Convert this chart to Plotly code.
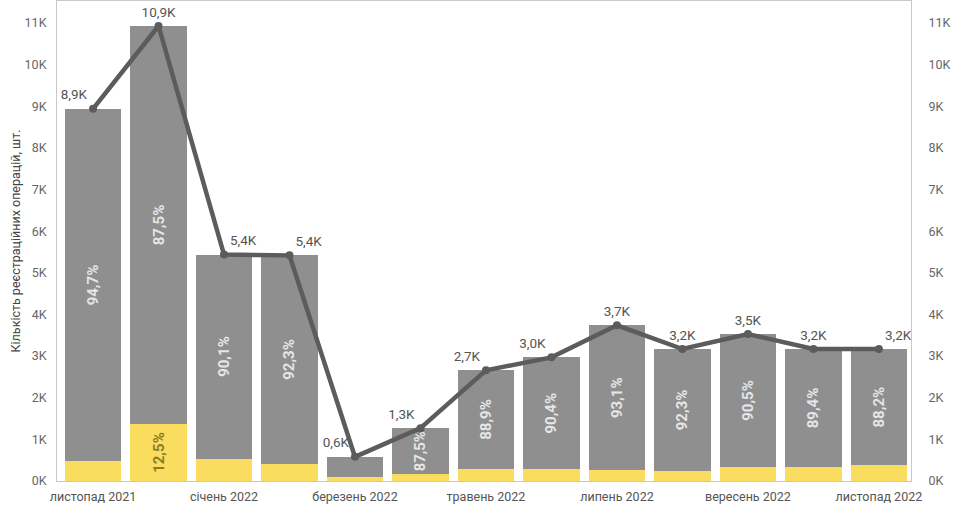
import plotly.graph_objects as go

months = ["листопад 2021", "грудень 2021", "січень 2022", "лютий 2022", "березень 2022",
          "квітень 2022", "травень 2022", "червень 2022", "липень 2022", "серпень 2022",
          "вересень 2022", "жовтень 2022", "листопад 2022"]
totals = [8.94, 10.93, 5.44, 5.42, 0.58, 1.27, 2.66, 2.97, 3.74, 3.17, 3.53, 3.17, 3.17]
total_labels = ["8,9K", "10,9K", "5,4K", "5,4K", "0,6K", "1,3K", "2,7K", "3,0K", "3,7K",
                "3,2K", "3,5K", "3,2K", "3,2K"]
gray_pct = [94.7, 87.5, 90.1, 92.3, 83.0, 87.5, 88.9, 90.4, 93.1, 92.3, 90.5, 89.4, 88.2]
gray_labels = ["94,7%", "87,5%", "90,1%", "92,3%", "", "87,5%", "88,9%", "90,4%", "93,1%",
               "92,3%", "90,5%", "89,4%", "88,2%"]
yellow_labels = ["", "12,5%", "", "", "", "", "", "", "", "", "", "", ""]
label_pos = ["top left", "top center", "top right", "top right", "top left", "top left",
             "top left", "top left", "top center", "top center", "top center",
             "top center", "top right"]
tick_months = months[::2]
tick_vals = [0, 1, 2, 3, 4, 5, 6, 7, 8, 9, 10, 11]
tick_text = [f"{v}K" for v in tick_vals]

gray_vals = [t * p / 100 for t, p in zip(totals, gray_pct)]
yellow_vals = [t - g for t, g in zip(totals, gray_vals)]

FONT = "Roboto, 'DejaVu Sans', sans-serif"

fig = go.Figure()
fig.add_trace(go.Bar(
    x=months, y=yellow_vals, marker=dict(color="#FADD5E", line=dict(width=0)),
    text=yellow_labels, textposition="inside", textangle=-90, insidetextanchor="middle",
    textfont=dict(color="#8C7B25", size=15, family=FONT, weight="bold"),
    hoverinfo="skip", showlegend=False))
fig.add_trace(go.Bar(
    x=months, y=gray_vals, marker=dict(color="#8F8F8F", line=dict(width=0)),
    text=gray_labels, textposition="inside", textangle=-90, insidetextanchor="middle",
    textfont=dict(color="#E6E6E6", size=15, family=FONT, weight="bold"),
    hoverinfo="skip", showlegend=False))
fig.add_trace(go.Scatter(
    x=months, y=totals, mode="lines+markers+text",
    line=dict(color="#5C5C5C", width=4.5),
    marker=dict(color="#5C5C5C", size=8),
    text=total_labels, textposition=label_pos,
    textfont=dict(color="#555555", size=13.5, family=FONT),
    showlegend=False, cliponaxis=False))
# invisible trace to show right axis
fig.add_trace(go.Scatter(x=months, y=totals, yaxis="y2", mode="lines",
                         line=dict(width=0), hoverinfo="skip", showlegend=False))

ymax = 11.53
fig.update_layout(
    width=968, height=512,
    margin=dict(l=57, r=57, t=1, b=31),
    paper_bgcolor="white", plot_bgcolor="white",
    barmode="stack", bargap=0.14,
    font=dict(family=FONT, color="#555555", size=12),
    xaxis=dict(type="category", range=[-0.55, 12.49], tickmode="array",
               tickvals=tick_months, ticktext=tick_months, showgrid=False,
               showline=True, linecolor="#C8C8C8", linewidth=1, mirror=True,
               ticks="", ticklabelstandoff=4, tickfont=dict(size=12.5, color="#555555")),
    yaxis=dict(range=[0, ymax], tickmode="array", tickvals=tick_vals, ticktext=tick_text,
               showgrid=False, zeroline=False, showline=True, linecolor="#C8C8C8",
               linewidth=1, ticks="", tickfont=dict(size=12.5, color="#666666"),
               ticklabelstandoff=7,
               title=dict(text="Кількість реєстраційних операцій, шт.",
                          font=dict(size=12.5, color="#444444"), standoff=1)),
    yaxis2=dict(range=[0, ymax], overlaying="y", side="right", tickmode="array",
                tickvals=tick_vals, ticktext=tick_text, showgrid=False, zeroline=False,
                showline=True, linecolor="#C8C8C8", linewidth=1, ticks="",
                tickfont=dict(size=12.5, color="#666666"), ticklabelstandoff=14),
)
fig.write_html("out.html")
